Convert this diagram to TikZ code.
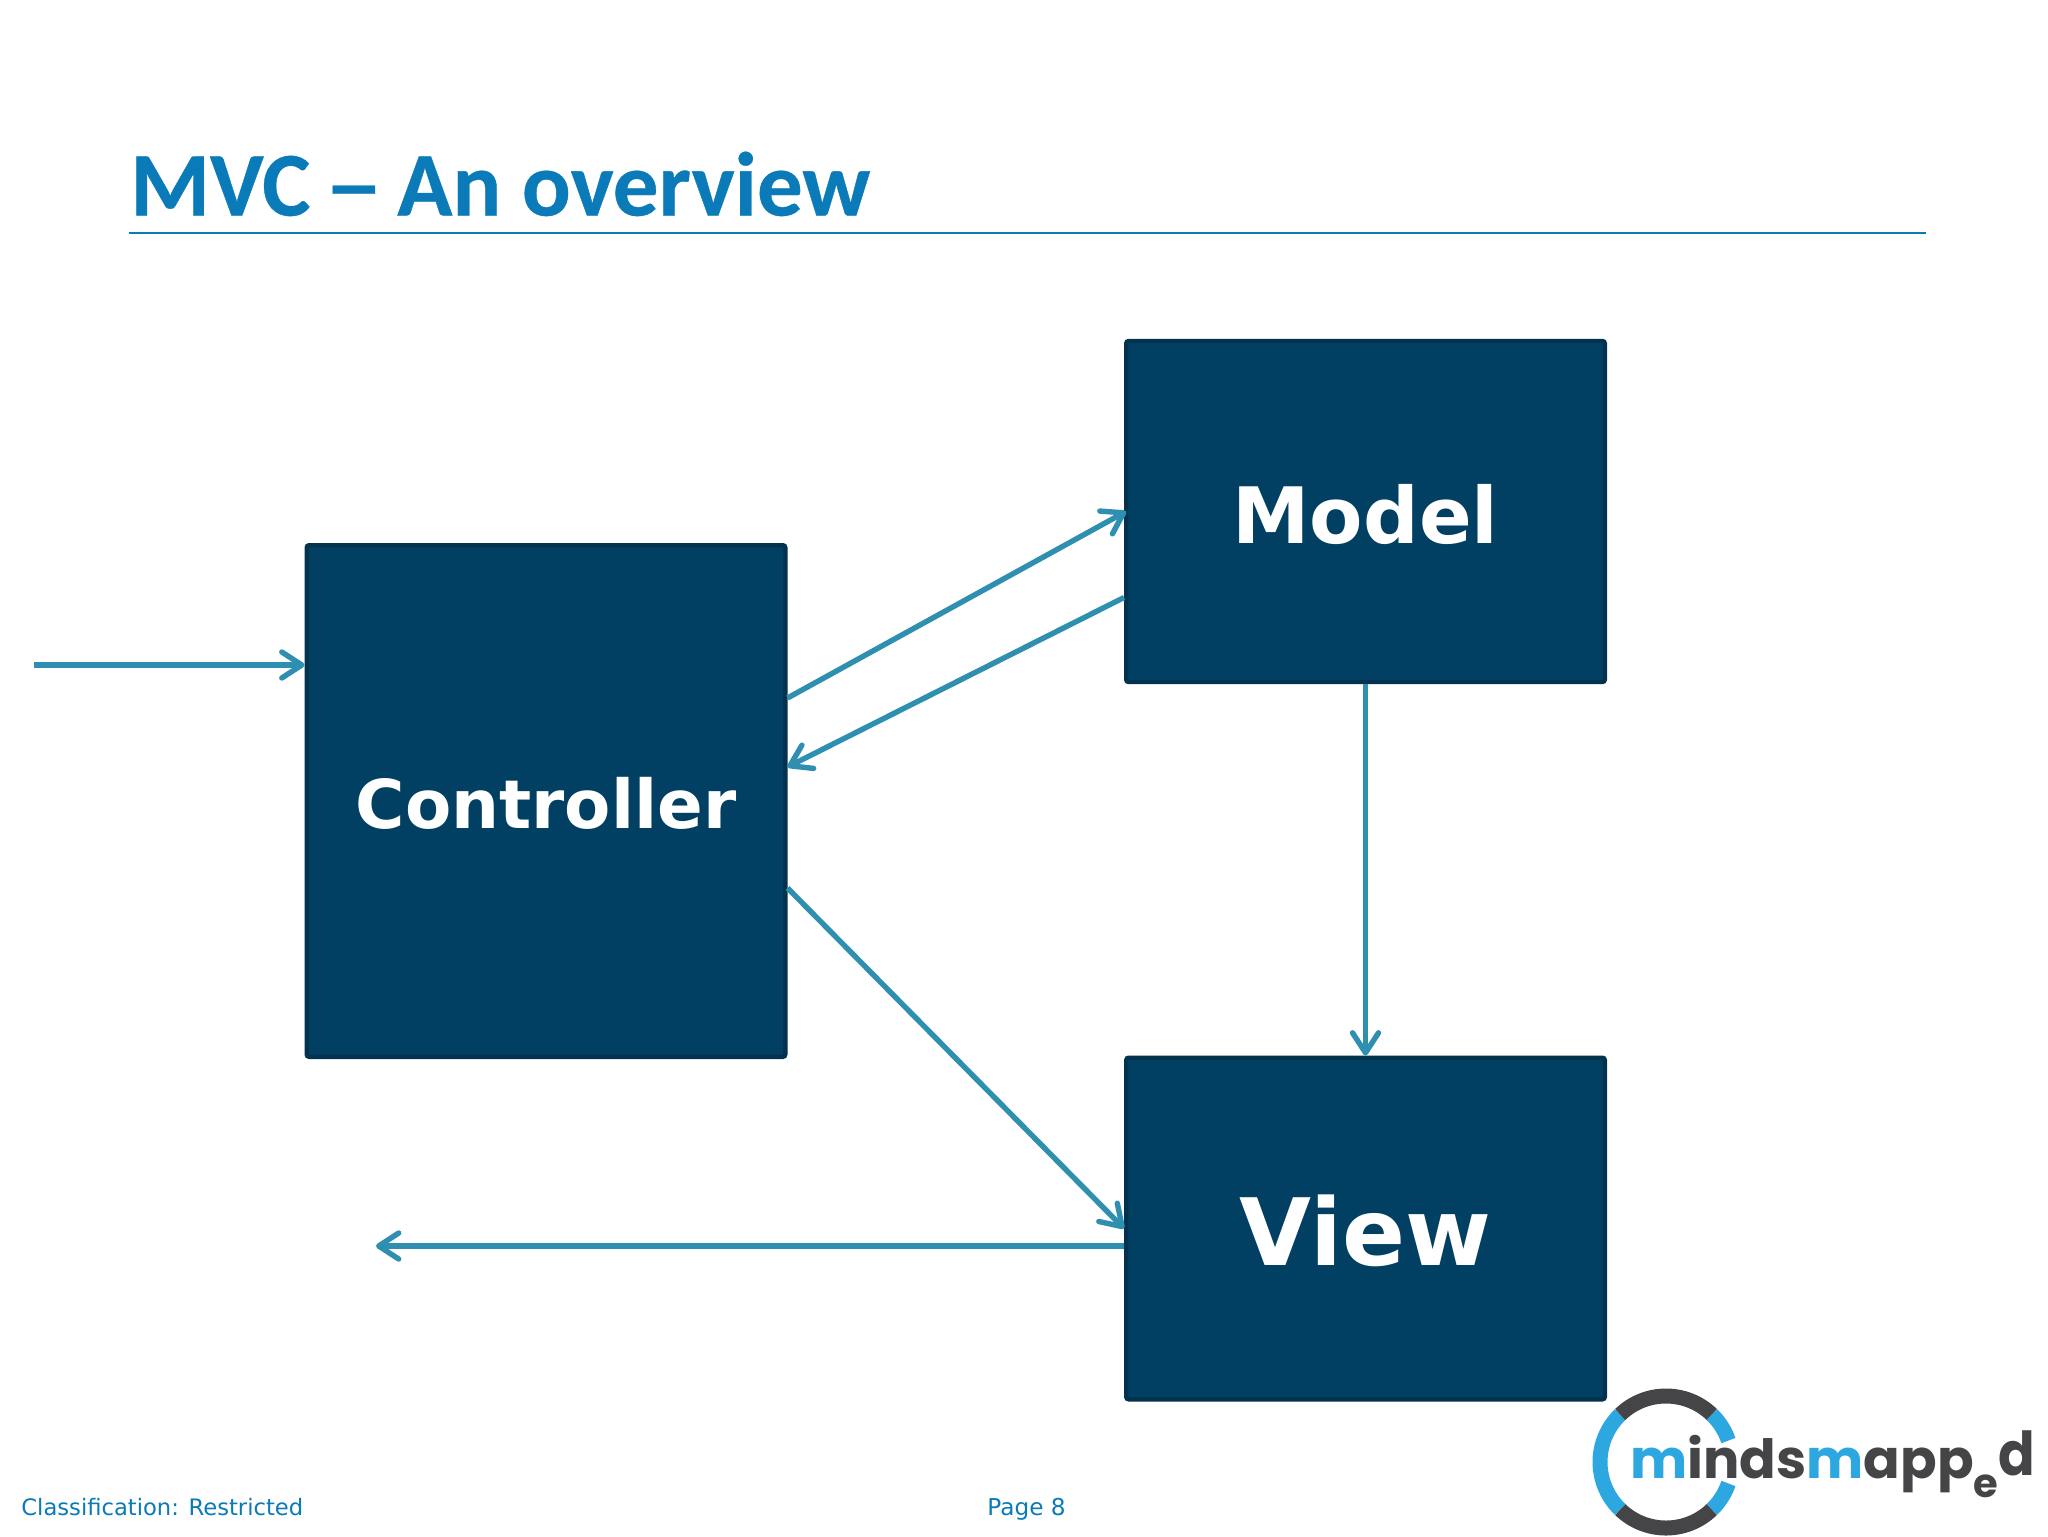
\documentclass[tikz,border=0pt]{standalone}
\usepackage{fontspec}
\usetikzlibrary{arrows.meta}
\newfontfamily\titlefont[BoldFeatures={FakeBold=0.4}]{Carlito}
\newfontfamily\boxfont{DejaVu Sans}
\newfontfamily\logofont{Poppins}
\definecolor{brand}{HTML}{0A7BB8}
\definecolor{boxfill}{HTML}{024063}
\definecolor{boxline}{HTML}{03324F}
\definecolor{conn}{HTML}{2E8FB0}
\definecolor{logoblue}{HTML}{2CA7E0}
\definecolor{logodark}{HTML}{454547}
\newcommand{\boxlabel}[2]{\raisebox{-1.3pt}[\height][\depth]{\fontsize{#1}{#1}\selectfont #2}}
\tikzset{
  mvcbox/.style={draw=boxline,fill=boxfill,line width=2.2pt,rounded corners=1.2pt,inner sep=0pt,
    minimum width=239.3pt,text=white,font=\boxfont\bfseries},
  conn/.style={draw=conn,line width=2.7pt,-{Straight Barb[length=10pt,width=13pt,line cap=round,round]}},
  foot/.style={text=brand,inner sep=0pt,anchor=base west,font=\boxfont\fontsize{11.6}{14}\selectfont},
  ringdark/.style={draw=logodark,line width=7.5pt},
  ringblue/.style={draw=logoblue,line width=7.5pt}
}
\begin{document}
\begin{tikzpicture}[x=0.5pt,y=-0.5pt]
\useasboundingbox (0,0) rectangle (2048,1536);
\fill[white] (0,0) rectangle (2048,1536);
% title
\node[anchor=base west,inner sep=0pt,text=brand,font=\titlefont\bfseries\fontsize{45.5}{50}\selectfont] (title) at (130,215.5) {MVC \kern-3.3pt\scalebox{1.3}[1]{–}\kern-3.3pt{} An overview};
\coordinate (ruleL) at (129,233);
\coordinate (ruleR) at (1926,233);
\draw[brand,line width=1pt] (ruleL) -- (ruleR);
% boxes
\node[mvcbox,minimum height=255.8pt] (ctrl) at (546,801) {\boxlabel{33.7}{Controller}};
\node[mvcbox,minimum height=170.5pt] (model) at (1365.5,511.5) {\boxlabel{38.9}{Model}};
\node[mvcbox,minimum height=170.8pt] (view) at (1365.5,1228.5) {\boxlabel{46.5}{View}};
% free ends
\coordinate (inS) at (34,665);
\coordinate (outE) at (376,1246);
% connectors
\draw[conn] (inS) -- ([yshift=68pt]ctrl.west);
\draw[conn] ([yshift=51.5pt]ctrl.east) -- ([yshift=0pt,xshift=1pt]model.west);
\draw[conn] ([yshift=-43pt]model.west) -- ([yshift=17pt]ctrl.east);
\draw[conn] ([yshift=-43.5pt]ctrl.east) -- ([yshift=0pt]view.west);
\draw[conn] (model.south) -- (view.north);
\draw[conn] ([yshift=-8.75pt]view.west) -- (outE);
% footer
\node[foot,font=\boxfont\fontsize{11.33}{14}\selectfont] (cls) at (21,1515.5) {Classification: Restricted};
\node[foot] (pg) at (987,1515.5) {Page 8};
% logo
\draw[ringdark] (1666,1462) ++(134:66) arc[start angle=134,end angle=46,radius=66];
\draw[ringblue] (1666,1462) ++(134:66) arc[start angle=134,end angle=226,radius=66];
\draw[ringdark] (1666,1462) ++(226:66) arc[start angle=226,end angle=314,radius=66];
\draw[ringblue] (1666,1462) ++(46:66) arc[start angle=46,end angle=19,radius=66];
\draw[ringblue] (1666,1462) ++(-46:66) arc[start angle=-46,end angle=-19,radius=66];
\node[anchor=base west,inner sep=0pt,font=\logofont\bfseries\fontsize{27}{30}\selectfont] (logo) at (1630,1478)
 {\textcolor{logoblue}{m}\textcolor{logodark}{inds}\textcolor{logoblue}{m}\textcolor{logodark}{app\raisebox{-9.5pt}{\fontsize{20}{22}\selectfont e}\raisebox{1.5pt}{\scalebox{1}[1.12]{d}}}};
\end{tikzpicture}
\end{document}
